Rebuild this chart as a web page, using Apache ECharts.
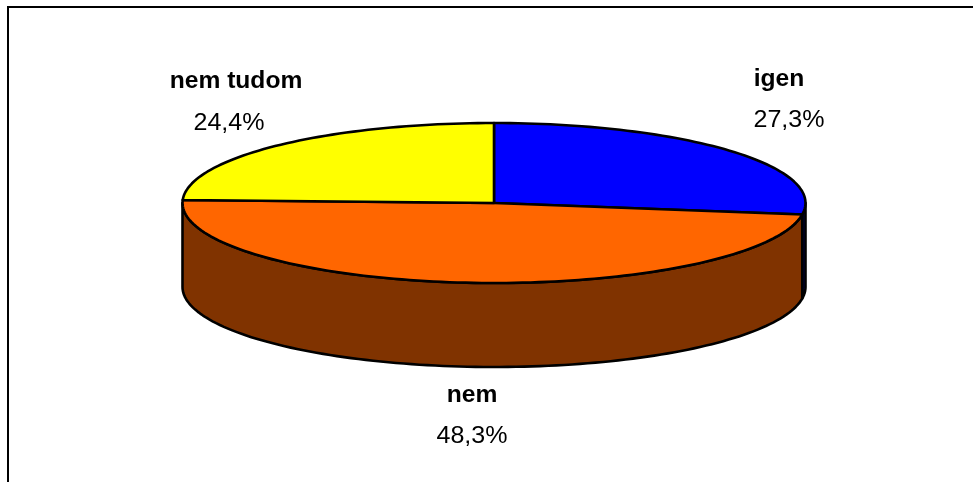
<!DOCTYPE html>
<html>
<head>
<meta charset="utf-8">
<script src="https://cdn.jsdelivr.net/npm/echarts@6/dist/echarts.min.js"></script>
<style>
  html, body { margin: 0; padding: 0; background: #fff; }
  #chart { width: 973px; height: 482px; }
</style>
</head>
<body>
<div id="chart"></div>
<script>
// Answer categories and their shares (percent)
const categories = ['igen', 'nem', 'nem tudom'];
const values = [27.3, 48.3, 24.4];
const valueLabels = ['27,3%', '48,3%', '24,4%'];

// Colours of the top faces and of the visible side walls
const topColors = ['#0000FF', '#FF6600', '#FFFF00'];
const sideColors = ['#000080', '#803300', '#808000'];

// Tilted pie geometry (pixels)
const CX = 494, CY = 203, RX = 311.5, RY = 80, DEPTH = 84;
// Label anchor points for each slice (name line, value line)
const labelPos = [
  { x: 779, y: 80, vx: 789, vy: 121 },
  { x: 472, y: 396, vx: 472, vy: 437 },
  { x: 236, y: 82, vx: 229, vy: 124 }
];

const total = values.reduce((a, b) => a + b, 0);
const starts = [];
let acc = 0;
values.forEach(v => { starts.push(acc / total * 360); acc += v; });

// Point on the ellipse for an angle measured clockwise from 12 o'clock
function pt(deg, dy) {
  const r = deg * Math.PI / 180;
  return [CX + RX * Math.sin(r), CY - RY * Math.cos(r) + (dy || 0)];
}
function arc(a, b, dy) {
  const pts = [];
  const n = Math.max(2, Math.ceil(Math.abs(b - a) / 1.5));
  for (let i = 0; i <= n; i++) pts.push(pt(a + (b - a) * i / n, dy));
  return pts;
}

const chart = echarts.init(document.getElementById('chart'), null, { renderer: 'canvas' });

chart.setOption({
  backgroundColor: '#fff',
  animation: false,
  graphic: [{
    type: 'rect',
    shape: { x: 8, y: 7, width: 1000, height: 1000 },
    style: { fill: 'none', stroke: '#000', lineWidth: 2 },
    silent: true
  }],
  series: [{
    type: 'custom',
    coordinateSystem: 'none',
    data: values,
    renderItem: function (params, api) {
      const i = params.dataIndex;
      const a = starts[i];
      const b = a + api.value(0) / total * 360;
      const children = [];
      // visible front wall: the part of the slice between 90 and 270 degrees
      const fa = Math.max(a, 90), fb = Math.min(b, 270);
      if (fb > fa) {
        const wall = arc(fa, fb, 0).concat(arc(fb, fa, DEPTH));
        children.push({
          type: 'polygon',
          shape: { points: wall },
          style: { fill: sideColors[i], stroke: '#000', lineWidth: 2.6, lineJoin: 'round' },
          z2: 1
        });
      }
      // top face
      const face = [[CX, CY]].concat(arc(a, b, 0));
      children.push({
        type: 'polygon',
        shape: { points: face },
        style: { fill: topColors[i], stroke: '#000', lineWidth: 2.6, lineJoin: 'round' },
        z2: 2
      });
      // labels
      const lp = labelPos[i];
      children.push({
        type: 'text', x: lp.x, y: lp.y, scaleX: 1.07, z2: 3,
        style: { x: 0, y: 0, text: categories[i], fill: '#000',
          font: 'bold 23px "Liberation Sans", Arial, sans-serif',
          align: 'center', verticalAlign: 'middle' }
      });
      children.push({
        type: 'text', x: lp.vx, y: lp.vy, scaleX: 1.09, z2: 3,
        style: { x: 0, y: 0, text: valueLabels[i], fill: '#000',
          font: '23px "Liberation Sans", Arial, sans-serif',
          align: 'center', verticalAlign: 'middle' }
      });
      return { type: 'group', children: children };
    }
  }]
});
</script>
</body>
</html>
